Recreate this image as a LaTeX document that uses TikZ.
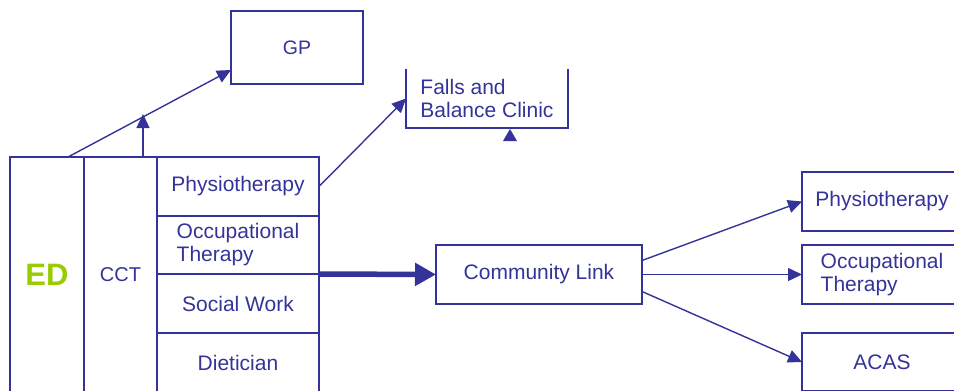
\documentclass[tikz,border=0pt]{standalone}
\usepackage{fontspec}
\setmainfont{Liberation Sans}
\usetikzlibrary{arrows.meta}
\definecolor{navy}{RGB}{51,51,153}
\definecolor{edgreen}{RGB}{153,204,0}

\begin{document}
\begin{tikzpicture}[x=1pt,y=-1pt,
  box/.style={draw=navy, line width=1.5pt, inner sep=0pt, outer sep=0pt,
    anchor=north west, text=navy, align=center,
    font=\fontsize{21}{23}\selectfont},
  plain/.style={box, draw=none},
  link/.style={draw=navy, line width=1.4pt,
    -{Triangle[length=14pt,width=13pt]}},
  heavy/.style={draw=navy, line width=5.5pt,
    -{Triangle[length=21pt,width=22pt]}},
]
\useasboundingbox (0,0) rectangle (954,391);

% upper targets
\node[box, minimum width=132pt, minimum height=73pt,
  font=\fontsize{19.5}{21}\selectfont] (gp) at (231,11) {GP};
\node[plain, minimum width=162pt, minimum height=59pt, align=left] (falls) at (406,69)
  {Falls and\\Balance Clinic};
\draw[navy, line width=1.5pt] (falls.north west) -- (falls.south west)
  -- (falls.south east) -- (falls.north east);
\fill[navy] (510,129) -- (517,141) -- (503,141) -- cycle;

% emergency department block
\node[box, minimum width=74pt, minimum height=236pt, text=edgreen,
  font=\fontsize{31}{33}\selectfont\bfseries] (ed) at (10,157) {ED};
\node[box, minimum width=73pt, minimum height=236pt,
  font=\fontsize{20}{22}\selectfont] (cct) at (84,157) {CCT};
\node[box, minimum width=162pt, minimum height=59pt] (phys) at (157,157) {Physiotherapy};
\node[box, minimum width=162pt, minimum height=58pt, align=left] (occ) at (157,216)
  {Occupational\\Therapy};
\node[box, minimum width=162pt, minimum height=59pt] (sw) at (157,274) {Social Work};
\node[box, minimum width=162pt, minimum height=60pt] (diet) at (157,333) {Dietician};

% community services
\node[box, minimum width=206pt, minimum height=59pt] (cl) at (436,245) {Community Link};
\node[box, minimum width=160pt, minimum height=59pt] (rphys) at (802,172) {Physiotherapy};
\node[box, minimum width=160pt, minimum height=59pt, align=left] (rocc) at (802,245)
  {Occupational\\Therapy};
\node[box, minimum width=160pt, minimum height=58pt] (acas) at (802,333) {ACAS};

% connectors
\coordinate (cctup) at (143,114);
\draw[link] ([xshift=21pt]ed.north) -- ([yshift=-22.5pt]gp.west);
\draw[link] ([xshift=22.5pt]cct.north) -- (cctup);
\draw[link] (phys.east) -- (falls.west);
\draw[heavy] (occ.south east) -- (cl.west);
\draw[link] ([yshift=14pt]cl.east) -- (rphys.west);
\draw[link] (cl.east) -- (rocc.west);
\draw[link] ([yshift=-17pt]cl.east) -- (acas.west);
\end{tikzpicture}
\end{document}
